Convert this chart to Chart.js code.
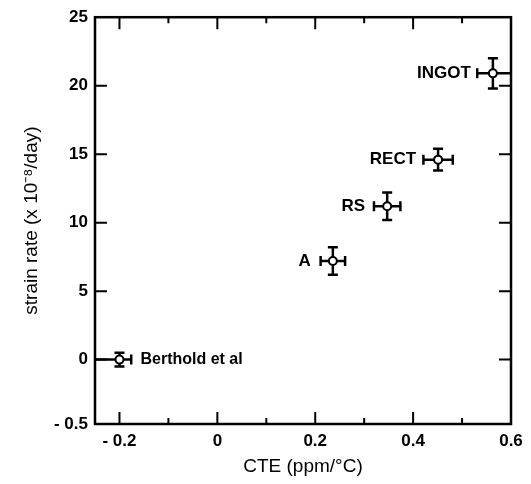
<!DOCTYPE html>
<html lang="en">

<head>
    <meta charset="UTF-8">
    <title>strain rate vs CTE</title>
    <script src="https://cdn.jsdelivr.net/npm/chart.js"></script>
</head>
<style>
    body {
        margin: 0;
        background-color: white
    }

    #container {
        width: 531px;
        height: 484px
    }
</style>
<script>
    // data
    const names = ['Berthold et al', 'A', 'RS', 'RECT', 'INGOT']
    const cte = [-0.2, 0.236, 0.347, 0.451, 0.563]
    const strainRate = [0, 7.2, 11.2, 14.6, 20.9]
    const cteErrLo = [0.08, 0.025, 0.027, 0.03, 0.032]
    const cteErrHi = [0.024, 0.025, 0.027, 0.03, 0.06]
    const rateErr = [0.5, 1.0, 1.0, 0.8, 1.1]

    // axes
    const xTickValues = [-0.2, -0.1, 0, 0.1, 0.2, 0.3, 0.4, 0.5, 0.6]
    const xTickLabels = ['- 0.2', '', '0', '', '0.2', '', '0.4', '', '0.6']
    const yTickValues = [-4.7, 0, 5, 10, 15, 20, 25]
    const yTickLabels = ['- 0.5', '0', '5', '10', '15', '20', '25']

    const FONT = 'Liberation Sans, Arial, sans-serif'

    // frame, inward ticks, error bars and point labels
    const decorations = {
        id: 'decorations',
        beforeDatasetsDraw(chart) {
            const ctx = chart.ctx
            const x = chart.scales.x
            const y = chart.scales.y
            const area = chart.chartArea
            ctx.save()
            ctx.beginPath()
            ctx.rect(area.left, area.top, area.right - area.left, area.bottom - area.top)
            ctx.clip()
            ctx.strokeStyle = '#000'
            ctx.lineWidth = 2.5
            const cap = 5
            names.forEach((n, i) => {
                const px = x.getPixelForValue(cte[i])
                const py = y.getPixelForValue(strainRate[i])
                const x0 = x.getPixelForValue(cte[i] - cteErrLo[i])
                const x1 = x.getPixelForValue(cte[i] + cteErrHi[i])
                const y0 = y.getPixelForValue(strainRate[i] - rateErr[i])
                const y1 = y.getPixelForValue(strainRate[i] + rateErr[i])
                ctx.beginPath()
                ctx.moveTo(x0, py); ctx.lineTo(x1, py)
                ctx.moveTo(px, y0); ctx.lineTo(px, y1)
                if (x0 > area.left) { ctx.moveTo(x0, py - cap); ctx.lineTo(x0, py + cap) }
                if (x1 < area.right) { ctx.moveTo(x1, py - cap); ctx.lineTo(x1, py + cap) }
                ctx.moveTo(px - cap, y0); ctx.lineTo(px + cap, y0)
                ctx.moveTo(px - cap, y1); ctx.lineTo(px + cap, y1)
                ctx.stroke()
            })
            ctx.restore()
        },
        afterDatasetsDraw(chart) {
            const ctx = chart.ctx
            const x = chart.scales.x
            const y = chart.scales.y
            const area = chart.chartArea
            ctx.save()
            ctx.fillStyle = '#000'
            ctx.textBaseline = 'middle'
            names.forEach((n, i) => {
                const px = x.getPixelForValue(cte[i])
                const py = y.getPixelForValue(strainRate[i])
                if (n === 'Berthold et al') {
                    ctx.font = 'bold 16px ' + FONT
                    ctx.textAlign = 'left'
                    ctx.fillText(n, px + 21, py)
                } else {
                    ctx.font = 'bold 17px ' + FONT
                    ctx.textAlign = 'right'
                    ctx.fillText(n, px - 22, py)
                }
            })

            // frame
            ctx.strokeStyle = '#000'
            ctx.lineWidth = 2.5
            ctx.strokeRect(area.left, area.top, area.right - area.left, area.bottom - area.top)

            // inward ticks
            ctx.lineWidth = 2
            ctx.beginPath()
            xTickValues.forEach((v, i) => {
                const px = x.getPixelForValue(v)
                if (px >= area.right - 2) return
                const len = xTickLabels[i] ? 12 : 6
                ctx.moveTo(px, area.bottom); ctx.lineTo(px, area.bottom - len)
                ctx.moveTo(px, area.top); ctx.lineTo(px, area.top + len)
            })
            yTickValues.forEach(v => {
                const py = y.getPixelForValue(v)
                if (py <= area.top + 2 || py >= area.bottom - 2) return
                ctx.moveTo(area.left, py); ctx.lineTo(area.left + 12, py)
                ctx.moveTo(area.right, py); ctx.lineTo(area.right - 12, py)
            })
            ctx.stroke()
            ctx.restore()
        }
    }

    window.onload = () => {
        new Chart(document.getElementById('mycanvas'), {
            type: 'scatter',
            data: {
                datasets: [{
                    data: cte.map((v, i) => ({ x: v, y: strainRate[i] })),
                    pointRadius: 4,
                    pointBorderWidth: 2,
                    pointBackgroundColor: '#fff',
                    pointBorderColor: '#000'
                }]
            },
            plugins: [decorations],
            options: {
                responsive: false,
                animation: false,
                layout: { padding: { top: 14, right: 20, left: 0, bottom: 0 } },
                plugins: { legend: { display: false }, tooltip: { enabled: false } },
                scales: {
                    x: {
                        type: 'linear',
                        min: -0.25,
                        max: 0.6,
                        afterBuildTicks: s => { s.ticks = xTickValues.map(v => ({ value: v })) },
                        afterFit: s => { s.height = 60 },
                        grid: { drawOnChartArea: false, drawTicks: false },
                        border: { display: false },
                        ticks: {
                            autoSkip: false,
                            maxRotation: 0,
                            padding: 7,
                            color: '#000',
                            font: { family: FONT, size: 17, weight: 'bold' },
                            callback: (v, i) => xTickLabels[i]
                        },
                        title: {
                            display: true,
                            text: 'CTE (ppm/°C)',
                            color: '#000',
                            font: { family: FONT, size: 19 },
                            padding: { top: 0, bottom: 6 }
                        }
                    },
                    y: {
                        min: -4.7,
                        max: 25,
                        afterBuildTicks: s => { s.ticks = yTickValues.map(v => ({ value: v })) },
                        afterFit: s => { s.width = 95 },
                        grid: { drawOnChartArea: false, drawTicks: false },
                        border: { display: false },
                        ticks: {
                            autoSkip: false,
                            padding: 7,
                            color: '#000',
                            font: { family: FONT, size: 17, weight: 'bold' },
                            callback: (v, i) => yTickLabels[i]
                        },
                        title: {
                            display: true,
                            text: 'strain rate (x 10⁻⁸/day)',
                            color: '#000',
                            font: { family: FONT, size: 19 },
                            padding: { top: 20, bottom: 0 }
                        }
                    }
                }
            }
        })
    }
</script>

<body>
    <div id="container">
        <canvas id="mycanvas" width="531" height="484"></canvas>
    </div>
</body>

</html>
